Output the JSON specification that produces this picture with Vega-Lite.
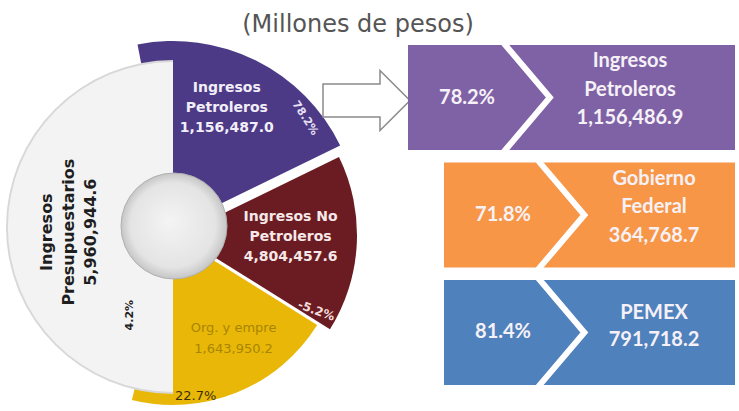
{
  "$schema": "https://vega.github.io/schema/vega-lite/v6.json",
  "padding": {"top": 13, "left": 0, "right": 4, "bottom": 0},
  "bounds": "flush",
  "spacing": 0,
  "title": {"text": "(Millones de pesos)", "font": "DejaVu Sans", "fontSize": 24, "fontWeight": "normal", "color": "#555555", "anchor": "middle", "dx": -9.5, "offset": -8},
  "config": {"view": {"stroke": null}},
  "datasets": {
    "pie": [
      {"seg": "pet", "k": 1, "span": 75, "label": "Ingresos\nPetroleros\n1,156,487.0", "pct": "78.2%"},
      {"seg": "nopet", "k": 2, "span": 58, "label": "Ingresos No\nPetroleros\n4,804,457.6", "pct": "-5.2%"},
      {"seg": "org", "k": 3, "span": 72, "label": "Org. y empre\n1,643,950.2", "pct": "22.7%"},
      {"seg": "pres", "k": 4, "span": 155, "label": "Ingresos\nPresupuestarios\n5,960,944.6", "pct": "4.2%"}
    ],
    "panels": [
      {"panel": "Ingresos Petroleros", "level": 0, "pct": "78.2%", "label": "Ingresos\nPetroleros\n1,156,486.9"},
      {"panel": "Gobierno Federal", "level": 1, "pct": "71.8%", "label": "Gobierno\nFederal\n364,768.7"},
      {"panel": "PEMEX", "level": 1, "pct": "81.4%", "label": "PEMEX\n791,718.2"}
    ]
  },
  "hconcat": [
    {
      "width": 346,
      "height": 364,
      "data": {"name": "pie"},
      "layer": [
        {
          "transform": [{"stack": "span", "groupby": [], "sort": [{"field": "k", "order": "ascending"}], "as": ["s0", "s1"]}, {"filter": "datum.seg === 'nopet'"}],
          "mark": {"type": "arc", "outerRadius": 178, "xOffset": 6, "yOffset": 8, "color": "#6b1c22"},
          "encoding": {"theta": {"field": "s0", "type": "quantitative", "scale": {"type": "linear", "domain": [0, 360], "range": [-0.19199, 6.0912]}}, "theta2": {"field": "s1"}}
        },
        {
          "transform": [{"stack": "span", "groupby": [], "sort": [{"field": "k", "order": "ascending"}], "as": ["s0", "s1"]}, {"filter": "datum.seg === 'pet'"}],
          "mark": {"type": "arc", "outerRadius": 186, "color": "#4d3a87"},
          "encoding": {"theta": {"field": "s0", "type": "quantitative", "scale": {"type": "linear", "domain": [0, 360], "range": [-0.19199, 6.0912]}}, "theta2": {"field": "s1"}}
        },
        {
          "transform": [{"stack": "span", "groupby": [], "sort": [{"field": "k", "order": "ascending"}], "as": ["s0", "s1"]}, {"filter": "datum.seg === 'org'"}],
          "mark": {"type": "arc", "outerRadius": 170, "yOffset": 8, "color": "#e9b708"},
          "encoding": {"theta": {"field": "s0", "type": "quantitative", "scale": {"type": "linear", "domain": [0, 360], "range": [-0.19199, 6.0912]}}, "theta2": {"field": "s1"}}
        },
        {
          "transform": [{"stack": "span", "groupby": [], "sort": [{"field": "k", "order": "ascending"}], "as": ["s0", "s1"]}, {"filter": "datum.seg === 'pres'"}],
          "mark": {"type": "arc", "outerRadius": 167, "thetaOffset": -0.24435, "theta2Offset": 0.19199, "color": "#d8d8d8"},
          "encoding": {"theta": {"field": "s0", "type": "quantitative", "scale": {"type": "linear", "domain": [0, 360], "range": [-0.19199, 6.0912]}}, "theta2": {"field": "s1"}}
        },
        {
          "transform": [{"stack": "span", "groupby": [], "sort": [{"field": "k", "order": "ascending"}], "as": ["s0", "s1"]}, {"filter": "datum.seg === 'pres'"}],
          "mark": {"type": "arc", "outerRadius": 165, "thetaOffset": -0.24435, "theta2Offset": 0.19199, "color": "#f3f3f3"},
          "encoding": {"theta": {"field": "s0", "type": "quantitative", "scale": {"type": "linear", "domain": [0, 360], "range": [-0.19199, 6.0912]}}, "theta2": {"field": "s1"}}
        },
        {
          "transform": [{"filter": "datum.seg === 'pres'"}],
          "mark": {"type": "arc", "outerRadius": 53, "theta": 0, "theta2": 6.2832, "xOffset": 1, "yOffset": -1, "stroke": "#b0b0b0", "strokeWidth": 1,
            "color": {"gradient": "radial", "x1": 0.45, "y1": 0.45, "x2": 0.5, "y2": 0.5, "r1": 0, "r2": 0.5, "stops": [{"offset": 0, "color": "#f4f4f4"}, {"offset": 0.8, "color": "#e4e4e4"}, {"offset": 1, "color": "#c6c6c6"}]}},
          "encoding": {}
        },
        {
          "mark": {"type": "text", "radius": 131, "dy": -20, "font": "DejaVu Sans", "fontWeight": "bold", "fontSize": 14, "lineBreak": "\n", "lineHeight": 20, "align": "center", "baseline": "middle", "color": "#f2eef8"},
          "encoding": {
            "theta": {"field": "span", "type": "quantitative", "stack": true, "bandPosition": 0.47, "scale": {"type": "linear", "domain": [0, 360], "range": [-0.19199, 6.0912]}},
            "order": {"field": "k", "type": "quantitative"},
            "detail": {"field": "seg", "type": "nominal"},
            "text": {"field": "label", "type": "nominal", "condition": {"test": "datum.seg !== 'pet'", "value": ""}}
          }
        },
        {
          "mark": {"type": "text", "radius": 118, "dy": -20, "font": "DejaVu Sans", "fontWeight": "bold", "fontSize": 14, "lineBreak": "\n", "lineHeight": 20, "align": "center", "baseline": "middle", "color": "#f6e8e8"},
          "encoding": {
            "theta": {"field": "span", "type": "quantitative", "stack": true, "bandPosition": 0.53, "scale": {"type": "linear", "domain": [0, 360], "range": [-0.19199, 6.0912]}},
            "order": {"field": "k", "type": "quantitative"},
            "detail": {"field": "seg", "type": "nominal"},
            "text": {"field": "label", "type": "nominal", "condition": {"test": "datum.seg !== 'nopet'", "value": ""}}
          }
        },
        {
          "mark": {"type": "text", "radius": 127, "dy": -11, "font": "DejaVu Sans", "fontWeight": "normal", "fontSize": 13, "lineBreak": "\n", "lineHeight": 21, "align": "center", "baseline": "middle", "color": "#a88500"},
          "encoding": {
            "theta": {"field": "span", "type": "quantitative", "stack": true, "bandPosition": 0.41, "scale": {"type": "linear", "domain": [0, 360], "range": [-0.19199, 6.0912]}},
            "order": {"field": "k", "type": "quantitative"},
            "detail": {"field": "seg", "type": "nominal"},
            "text": {"field": "label", "type": "nominal", "condition": {"test": "datum.seg !== 'org'", "value": ""}}
          }
        },
        {
          "mark": {"type": "text", "radius": 104, "angle": -90, "dy": -22, "font": "DejaVu Sans", "fontWeight": "bold", "fontSize": 16, "lineBreak": "\n", "lineHeight": 22, "align": "center", "baseline": "middle", "color": "#1e1e1e"},
          "encoding": {
            "theta": {"field": "span", "type": "quantitative", "stack": true, "bandPosition": 0.472, "scale": {"type": "linear", "domain": [0, 360], "range": [-0.19199, 6.0912]}},
            "order": {"field": "k", "type": "quantitative"},
            "detail": {"field": "seg", "type": "nominal"},
            "text": {"field": "label", "type": "nominal", "condition": {"test": "datum.seg !== 'pres'", "value": ""}}
          }
        },
        {
          "mark": {"type": "text", "radius": 171, "angle": 57, "font": "DejaVu Sans", "fontWeight": "bold", "fontSize": 11, "align": "center", "baseline": "middle", "color": "#e8e0f5"},
          "encoding": {
            "theta": {"field": "span", "type": "quantitative", "stack": true, "bandPosition": 0.82, "scale": {"type": "linear", "domain": [0, 360], "range": [-0.19199, 6.0912]}},
            "order": {"field": "k", "type": "quantitative"},
            "detail": {"field": "seg", "type": "nominal"},
            "text": {"field": "pct", "type": "nominal", "condition": {"test": "datum.seg !== 'pet'", "value": ""}}
          }
        },
        {
          "mark": {"type": "text", "radius": 166, "angle": 20, "font": "DejaVu Sans", "fontWeight": "bold", "fontSize": 12, "align": "center", "baseline": "middle", "color": "#f3dede"},
          "encoding": {
            "theta": {"field": "span", "type": "quantitative", "stack": true, "bandPosition": 0.97, "scale": {"type": "linear", "domain": [0, 360], "range": [-0.19199, 6.0912]}},
            "order": {"field": "k", "type": "quantitative"},
            "detail": {"field": "seg", "type": "nominal"},
            "text": {"field": "pct", "type": "nominal", "condition": {"test": "datum.seg !== 'nopet'", "value": ""}}
          }
        },
        {
          "mark": {"type": "text", "radius": 171, "font": "DejaVu Sans", "fontWeight": "normal", "fontSize": 13, "align": "center", "baseline": "middle", "color": "#3b3000"},
          "encoding": {
            "theta": {"field": "span", "type": "quantitative", "stack": true, "bandPosition": 0.7, "scale": {"type": "linear", "domain": [0, 360], "range": [-0.19199, 6.0912]}},
            "order": {"field": "k", "type": "quantitative"},
            "detail": {"field": "seg", "type": "nominal"},
            "text": {"field": "pct", "type": "nominal", "condition": {"test": "datum.seg !== 'org'", "value": ""}}
          }
        },
        {
          "mark": {"type": "text", "radius": 98, "angle": -90, "font": "DejaVu Sans", "fontWeight": "bold", "fontSize": 11, "align": "center", "baseline": "middle", "color": "#222222"},
          "encoding": {
            "theta": {"field": "span", "type": "quantitative", "stack": true, "bandPosition": 0.077, "scale": {"type": "linear", "domain": [0, 360], "range": [-0.19199, 6.0912]}},
            "order": {"field": "k", "type": "quantitative"},
            "detail": {"field": "seg", "type": "nominal"},
            "text": {"field": "pct", "type": "nominal", "condition": {"test": "datum.seg !== 'pres'", "value": ""}}
          }
        }
      ]
    },
    {
      "width": 389,
      "height": 340,
      "data": {"name": "panels"},
      "resolve": {"scale": {"x": "independent"}},
      "layer": [
        {
          "transform": [{"filter": "datum.level === 0"}],
          "mark": {"type": "point", "shape": "M-1,-0.38L0.31,-0.38L0.31,-0.69L1,0L0.31,0.69L0.31,0.38L-1,0.38Z", "size": 7569, "filled": true, "fill": "#ffffff", "stroke": "#8a8a8a", "strokeWidth": 1.5, "opacity": 1, "yOffset": 3},
          "encoding": {
            "x": {"field": "level", "type": "quantitative", "scale": {"domain": [0, 1], "range": [20.5, 56.5], "zero": false, "nice": false}, "axis": null},
            "y": {"field": "panel", "type": "nominal", "scale": {"type": "band", "domain": ["Ingresos Petroleros", "Gobierno Federal", "PEMEX"], "paddingInner": 0.106, "paddingOuter": 0}, "axis": null}
          }
        },
        {
          "mark": {"type": "rect"},
          "encoding": {
            "x": {"field": "level", "type": "quantitative", "scale": {"domain": [0, 1], "range": [62, 98], "zero": false, "nice": false}, "axis": null},
            "x2": {"value": "width"},
            "y": {"field": "panel", "type": "nominal", "scale": {"type": "band", "domain": ["Ingresos Petroleros", "Gobierno Federal", "PEMEX"], "paddingInner": 0.106, "paddingOuter": 0}, "axis": null},
            "color": {"field": "panel", "type": "nominal", "scale": {"domain": ["Ingresos Petroleros", "Gobierno Federal", "PEMEX"], "range": ["#7f62a6", "#f79646", "#4f81bd"]}, "legend": null}
          }
        },
        {
          "mark": {"type": "point", "shape": "M-0.45,-1.06L0.45,0L-0.45,1.06", "size": 11236, "filled": false, "color": "#ffffff", "stroke": "#ffffff", "strokeWidth": 6, "strokeJoin": "miter", "opacity": 1},
          "encoding": {
            "x": {"field": "level", "type": "quantitative", "scale": {"domain": [0, 1], "range": [180, 214.5], "zero": false, "nice": false}, "axis": null},
            "y": {"field": "panel", "type": "nominal", "scale": {"type": "band", "domain": ["Ingresos Petroleros", "Gobierno Federal", "PEMEX"], "paddingInner": 0.106, "paddingOuter": 0}, "axis": null}
          }
        },
        {
          "mark": {"type": "text", "font": "Lato", "fontWeight": "bold", "fontSize": 20, "align": "center", "baseline": "middle", "color": "#f6f1f6"},
          "encoding": {
            "x": {"field": "level", "type": "quantitative", "scale": {"domain": [0, 1], "range": [121, 157], "zero": false, "nice": false}, "axis": null},
            "y": {"field": "panel", "type": "nominal", "scale": {"type": "band", "domain": ["Ingresos Petroleros", "Gobierno Federal", "PEMEX"], "paddingInner": 0.106, "paddingOuter": 0}, "axis": null},
            "text": {"field": "pct", "type": "nominal"}
          }
        },
        {
          "transform": [{"filter": "datum.panel !== 'PEMEX'"}],
          "mark": {"type": "text", "font": "Lato", "fontWeight": "bold", "fontSize": 20, "lineBreak": "\n", "lineHeight": 28.5, "align": "center", "baseline": "middle", "dy": -36.5, "color": "#f6f1f6"},
          "encoding": {
            "x": {"field": "level", "type": "quantitative", "scale": {"domain": [0, 1], "range": [284, 308], "zero": false, "nice": false}, "axis": null},
            "y": {"field": "panel", "type": "nominal", "scale": {"type": "band", "domain": ["Ingresos Petroleros", "Gobierno Federal", "PEMEX"], "paddingInner": 0.106, "paddingOuter": 0}, "axis": null},
            "text": {"field": "label", "type": "nominal"}
          }
        },
        {
          "transform": [{"filter": "datum.panel === 'PEMEX'"}],
          "mark": {"type": "text", "font": "Lato", "fontWeight": "bold", "fontSize": 20, "lineBreak": "\n", "lineHeight": 27, "align": "center", "baseline": "middle", "dy": -19.5, "color": "#f6f1f6"},
          "encoding": {
            "x": {"field": "level", "type": "quantitative", "scale": {"domain": [0, 1], "range": [284, 308], "zero": false, "nice": false}, "axis": null},
            "y": {"field": "panel", "type": "nominal", "scale": {"type": "band", "domain": ["Ingresos Petroleros", "Gobierno Federal", "PEMEX"], "paddingInner": 0.106, "paddingOuter": 0}, "axis": null},
            "text": {"field": "label", "type": "nominal"}
          }
        }
      ]
    }
  ]
}
